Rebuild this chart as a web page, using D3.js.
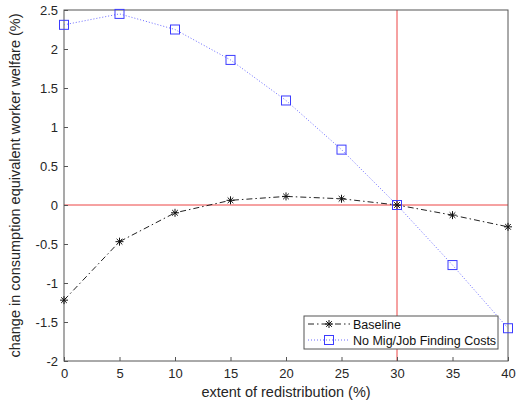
<!DOCTYPE html>
<html><head><meta charset="utf-8">
<script src="https://cdn.jsdelivr.net/npm/d3@7"></script>
<style>body{margin:0;background:#fff}svg{display:block;font-family:"Liberation Sans",Arial,sans-serif}</style>
</head><body><svg id="c" width="520" height="407"></svg>
<script>
const xs = [0,5,10,15,20,25,30,35,40];
const baseline = [-1.22,-0.47,-0.10,0.06,0.11,0.08,0.00,-0.13,-0.28];
const noMig = [2.31,2.45,2.25,1.86,1.34,0.71,0.00,-0.77,-1.58];
const xTicks = [0,5,10,15,20,25,30,35,40];
const yTicks = [-2,-1.5,-1,-0.5,0,0.5,1,1.5,2,2.5];
const seriesNames = ["Baseline","No Mig/Job Finding Costs"];

const svg = d3.select("#c");
const L=64,R=508,T=10,B=361;
const x = d3.scaleLinear().domain([0,40]).range([L,R]);
const y = d3.scaleLinear().domain([-2,2.5]).range([B,T]);
const axisCol="#555", txtCol="#262626";

// reference lines
svg.append("line").attr("x1",x(0)).attr("x2",x(40)).attr("y1",y(0)).attr("y2",y(0)).attr("stroke","#ec4444").attr("stroke-width",1);
svg.append("line").attr("x1",x(30)).attr("x2",x(30)).attr("y1",y(-2)).attr("y2",y(2.5)).attr("stroke","#ec4444").attr("stroke-width",1);

// axes
const gx = svg.append("g").attr("transform",`translate(0,${B})`).call(d3.axisBottom(x).tickValues(xTicks).tickSize(-4).tickPadding(8).tickFormat(d3.format("d")));
const gy = svg.append("g").attr("transform",`translate(${L},0)`).call(d3.axisLeft(y).tickValues(yTicks).tickSize(-4).tickPadding(6).tickFormat(d=>String(d)));
[gx,gy].forEach(g=>{g.select(".domain").remove();g.selectAll("line").attr("stroke",axisCol);g.selectAll("text").attr("fill",txtCol).style("font-size","13px").style("font-family","'Liberation Sans',Arial,sans-serif");});
svg.append("rect").attr("x",L).attr("y",T).attr("width",R-L).attr("height",B-T).attr("fill","none").attr("stroke",axisCol).attr("stroke-width",1);

// series
const line = d3.line().x((d,i)=>x(xs[i])).y(d=>y(d));
svg.append("path").datum(noMig).attr("d",line).attr("fill","none").attr("stroke","#6a6aff").attr("stroke-width",1).attr("stroke-dasharray","1,2");
svg.append("path").datum(baseline).attr("d",line).attr("fill","none").attr("stroke","#222").attr("stroke-width",1).attr("stroke-dasharray","6,3,1.5,3");

function star(g,cx,cy){
  const r=4;
  for(let a=0;a<4;a++){const t=a*Math.PI/4;g.append("line").attr("x1",cx-r*Math.cos(t)).attr("y1",cy-r*Math.sin(t)).attr("x2",cx+r*Math.cos(t)).attr("y2",cy+r*Math.sin(t)).attr("stroke","#111").attr("stroke-width",1);}
}
function sq(g,cx,cy){g.append("rect").attr("x",cx-4.5).attr("y",cy-4.5).attr("width",9).attr("height",9).attr("fill","none").attr("stroke","#3c3cff").attr("stroke-width",1);}
const gm = svg.append("g");
noMig.forEach((v,i)=>sq(gm,x(xs[i]),y(v)));
baseline.forEach((v,i)=>star(gm,x(xs[i]),y(v)));

// legend
const lg = svg.append("g");
lg.append("rect").attr("x",304).attr("y",316).attr("width",194).attr("height",33).attr("fill","#fff").attr("stroke",axisCol).attr("stroke-width",1);
lg.append("line").attr("x1",308).attr("x2",350).attr("y1",324).attr("y2",324).attr("stroke","#222").attr("stroke-dasharray","6,3,1.5,3");
star(lg,329,324);
lg.append("line").attr("x1",308).attr("x2",350).attr("y1",340).attr("y2",340).attr("stroke","#6a6aff").attr("stroke-dasharray","1,2");
sq(lg,329,340);
seriesNames.forEach((n,i)=>lg.append("text").attr("x",353).attr("y",328.5+i*16).attr("fill","#111").style("font-size","12.5px").text(n));

// labels
svg.append("text").attr("x",(L+R)/2).attr("y",397).attr("text-anchor","middle").attr("fill",txtCol).style("font-size","14.5px").text("extent of redistribution (%)");
svg.append("text").attr("transform",`translate(20,${(T+B)/2}) rotate(-90)`).attr("text-anchor","middle").attr("fill",txtCol).style("font-size","14.5px").text("change in consumption equivalent worker welfare (%)");
</script></body></html>
